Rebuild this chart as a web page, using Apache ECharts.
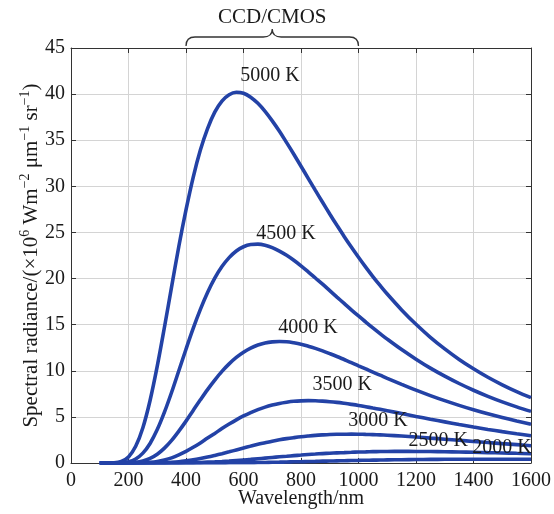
<!DOCTYPE html>
<html>
<head>
<meta charset="utf-8">
<title>Spectral radiance</title>
<script src="https://cdn.jsdelivr.net/npm/echarts@6/dist/echarts.min.js"></script>
<style>
    html, body { margin: 0; padding: 0; background: #fff; }
    #chart { width: 554px; height: 514px; }
</style>
</head>
<body>
<div id="chart"></div>
<script>
// wavelength samples (nm): 25 nm up to 1100, then 50 nm
var wavelength = [100, 125, 150, 175, 200, 225, 250, 275, 300, 325, 350, 375, 400, 425, 450, 475, 500, 525, 550, 575,
    600, 625, 650, 675, 700, 725, 750, 775, 800, 825, 850, 875, 900, 925, 950, 975, 1000, 1025, 1050, 1075, 1100,
    1150, 1200, 1250, 1300, 1350, 1400, 1450, 1500, 1550, 1600];

// curves, x10^6 units
var k5000 = [0, 0, 0.02, 0.17, 0.66, 1.81, 3.83, 6.78, 10.50, 14.72, 19.12, 23.48, 27.44, 30.98, 33.93, 36.26, 38.04, 39.24, 39.93, 40.20,
    40.10, 39.67, 39.00, 38.13, 37.10, 35.97, 34.74, 33.48, 32.18, 30.87, 29.56, 28.27, 27.00, 25.77, 24.57, 23.42, 22.31, 21.24, 20.22, 19.25, 18.32,
    16.60, 15.04, 13.63, 12.37, 11.23, 10.22, 9.30, 8.48, 7.74, 7.08];
var k4500 = [0, 0, 0, 0.03, 0.13, 0.44, 1.07, 2.12, 3.62, 5.51, 7.67, 10.00, 12.34, 14.59, 16.65, 18.48, 20.04, 21.30, 22.27, 22.99,
    23.45, 23.69, 23.73, 23.62, 23.36, 22.98, 22.52, 21.98, 21.38, 20.73, 20.06, 19.39, 18.69, 17.99, 17.30, 16.61, 15.94, 15.29, 14.65, 14.03, 13.43,
    12.30, 11.26, 10.29, 9.42, 8.62, 7.89, 7.23, 6.63, 6.09, 5.60];
var k4000 = [0, 0, 0, 0, 0.02, 0.07, 0.22, 0.50, 0.95, 1.61, 2.45, 3.45, 4.54, 5.70, 6.85, 7.96, 8.99, 9.94, 10.75, 11.45,
    12.01, 12.46, 12.79, 13.01, 13.13, 13.17, 13.14, 13.03, 12.88, 12.67, 12.43, 12.16, 11.86, 11.55, 11.22, 10.89, 10.54, 10.20, 9.85, 9.52, 9.18,
    8.53, 7.90, 7.31, 6.76, 6.25, 5.77, 5.33, 4.93, 4.56, 4.21];
var k3500 = [0, 0, 0, 0, 0, 0.01, 0.03, 0.08, 0.17, 0.33, 0.56, 0.88, 1.26, 1.70, 2.18, 2.70, 3.21, 3.73, 4.22, 4.68,
    5.10, 5.47, 5.79, 6.06, 6.28, 6.46, 6.59, 6.69, 6.74, 6.76, 6.75, 6.71, 6.65, 6.57, 6.47, 6.36, 6.24, 6.10, 5.96, 5.82, 5.67,
    5.36, 5.05, 4.75, 4.46, 4.17, 3.90, 3.64, 3.40, 3.17, 2.96];
var k3000 = [0, 0, 0, 0, 0, 0, 0, 0.01, 0.02, 0.04, 0.08, 0.14, 0.23, 0.34, 0.48, 0.64, 0.82, 1.01, 1.21, 1.42,
    1.63, 1.83, 2.02, 2.19, 2.36, 2.51, 2.64, 2.75, 2.85, 2.93, 3.00, 3.05, 3.09, 3.11, 3.12, 3.13, 3.12, 3.10, 3.08, 3.05, 3.01,
    2.92, 2.82, 2.70, 2.58, 2.46, 2.34, 2.22, 2.10, 1.99, 1.87];
var k2500 = [0, 0, 0, 0, 0, 0, 0, 0, 0, 0, 0.01, 0.01, 0.02, 0.04, 0.06, 0.09, 0.12, 0.16, 0.21, 0.27,
    0.33, 0.39, 0.46, 0.53, 0.60, 0.67, 0.73, 0.80, 0.86, 0.92, 0.97, 1.02, 1.06, 1.10, 1.13, 1.16, 1.19, 1.21, 1.23, 1.24, 1.25,
    1.26, 1.25, 1.24, 1.22, 1.19, 1.16, 1.12, 1.09, 1.05, 1.01];
var k2000 = [0, 0, 0, 0, 0, 0, 0, 0, 0, 0, 0, 0, 0, 0, 0, 0, 0.01, 0.01, 0.02, 0.02,
    0.03, 0.04, 0.05, 0.06, 0.08, 0.09, 0.11, 0.13, 0.14, 0.16, 0.18, 0.20, 0.21, 0.23, 0.25, 0.27, 0.28, 0.30, 0.31, 0.32, 0.34,
    0.36, 0.38, 0.39, 0.40, 0.41, 0.41, 0.41, 0.41, 0.41, 0.40];

var curves = [k5000, k4500, k4000, k3500, k3000, k2500, k2000];

// curve labels (anchored in data units)
var labelNames = ['5000 K', '4500 K', '4000 K', '3500 K', '3000 K', '2500 K', '2000 K'];
var labelX = [692, 748, 824, 943, 1068, 1277, 1499];
var labelY = [42.0, 24.9, 14.7, 8.5, 4.6, 2.4, 1.6];

// detector band
var bandName = 'CCD/CMOS';
var bandRange = [400, 1000];

var xTicks = { min: 0, max: 1600, step: 200 };
var yTicks = { min: 0, max: 45, step: 5 };

var serif = "'Liberation Serif', 'Times New Roman', serif";
var blue = '#2342a6';
var ink = '#1a1a1a';

var chart = echarts.init(document.getElementById('chart'));

function frameAxis(pos, r, main) {
    return {
        type: 'value',
        position: pos,
        min: r.min,
        max: r.max,
        interval: r.step,
        nameMoveOverlap: false,
        axisLine: { show: true, onZero: false, lineStyle: { color: '#333', width: 1 } },
        axisTick: { show: true, inside: true, length: 5, lineStyle: { color: '#333' } },
        axisLabel: main ? {
            show: true, color: ink, fontFamily: serif, fontSize: 20, margin: 6,
            formatter: function (v) { return String(v); }
        } : { show: false },
        splitLine: main ? { show: true, lineStyle: { color: '#d4d4d4', width: 1 } } : { show: false }
    };
}

var xMain = frameAxis('bottom', xTicks, true);
xMain.axisLabel.margin = 8;
xMain.name = 'Wavelength/nm';
xMain.nameLocation = 'middle';
xMain.nameGap = 26;
xMain.nameTextStyle = { color: ink, fontFamily: serif, fontSize: 20 };

var yMain = frameAxis('left', yTicks, true);
yMain.name = '{a|Spectral radiance/(×10}{s|6}{a| Wm}{s|−2}{a| μm}{s|−1}{a| sr}{s|−1}{a|)}';
yMain.nameLocation = 'middle';
yMain.nameGap = 27;
yMain.nameTextStyle = {
    color: ink,
    rich: {
        a: { fontFamily: serif, fontSize: 21, color: ink, lineHeight: 26 },
        s: { fontFamily: serif, fontSize: 14, color: ink, lineHeight: 26, verticalAlign: 'top', padding: [0, 0, 10, 0] }
    }
};

var series = curves.map(function (vals, i) {
    return {
        type: 'line',
        name: labelNames[i],
        data: wavelength.map(function (w, j) { return [w, vals[j]]; }),
        showSymbol: false,
        smooth: 0.35,
        lineStyle: { color: blue, width: 3.6 },
        itemStyle: { color: blue },
        z: 2,
        silent: true
    };
});

// curve names
series.push({
    type: 'custom',
    clip: false,
    silent: true,
    z: 5,
    data: labelNames.map(function (n, i) { return [labelX[i], labelY[i], i]; }),
    renderItem: function (params, api) {
        var p = api.coord([api.value(0), api.value(1)]);
        return {
            type: 'text',
            style: {
                text: labelNames[api.value(2)], x: p[0], y: p[1],
                fill: ink, font: '20px ' + serif,
                align: 'center', verticalAlign: 'middle'
            }
        };
    }
});

// curly brace over the CCD/CMOS band
series.push({
    type: 'custom',
    clip: false,
    silent: true,
    data: [[bandRange[0], bandRange[1]]],
    renderItem: function (params, api) {
        var a = api.coord([api.value(0), yTicks.max]);
        var b = api.coord([api.value(1), yTicks.max]);
        var y0 = a[1] - 2;
        var yl = y0 - 9;
        var yt = y0 - 17;
        var mid = (a[0] + b[0]) / 2;
        var r = 9;
        var d = 'M' + a[0] + ' ' + y0 +
            ' Q' + a[0] + ' ' + yl + ' ' + (a[0] + r) + ' ' + yl +
            ' L' + (mid - r) + ' ' + yl +
            ' Q' + mid + ' ' + yl + ' ' + mid + ' ' + yt +
            ' Q' + mid + ' ' + yl + ' ' + (mid + r) + ' ' + yl +
            ' L' + (b[0] - r) + ' ' + yl +
            ' Q' + b[0] + ' ' + yl + ' ' + b[0] + ' ' + y0;
        return {
            type: 'group',
            children: [
                { type: 'path', shape: { pathData: d }, style: { fill: null, stroke: '#333', lineWidth: 1.3 } },
                {
                    type: 'text',
                    style: {
                        text: bandName, x: mid, y: yt - 1,
                        fill: ink, font: '21px ' + serif,
                        align: 'center', verticalAlign: 'bottom'
                    }
                }
            ]
        };
    }
});

chart.setOption({
    animation: false,
    backgroundColor: '#fff',
    grid: { left: 71, right: 23, top: 48, bottom: 51, containLabel: false, outerBoundsMode: 'none' },
    xAxis: [xMain, frameAxis('top', xTicks, false)],
    yAxis: [yMain, frameAxis('right', yTicks, false)],
    series: series
});
</script>
</body>
</html>
